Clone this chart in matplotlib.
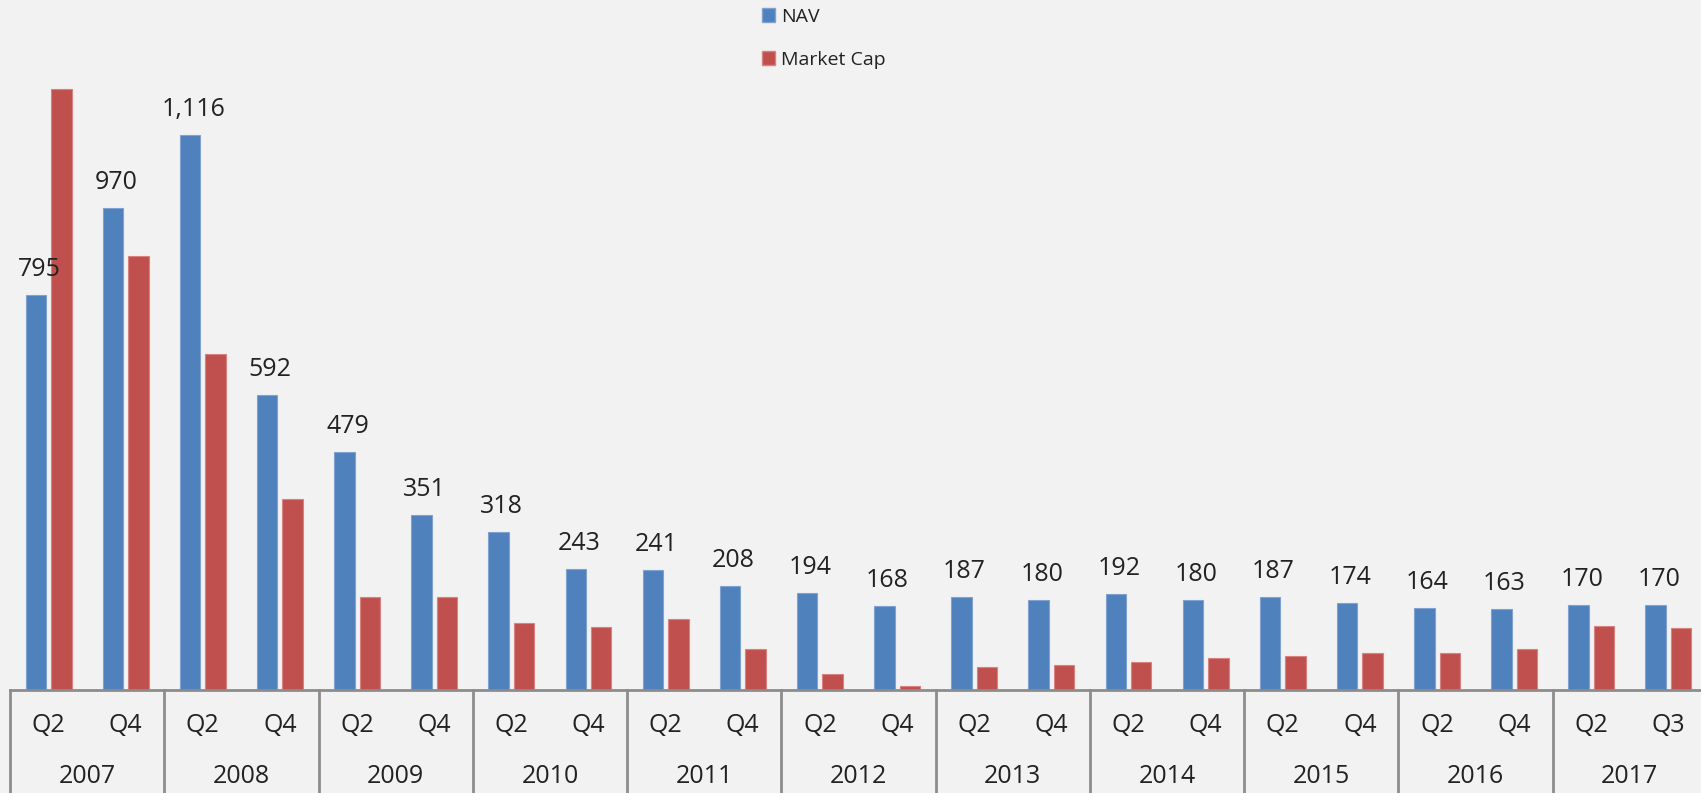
import matplotlib
matplotlib.use("Agg")
import matplotlib.pyplot as plt
import matplotlib.transforms as mtransforms
from matplotlib.patches import Patch
import numpy as np

# =========================
# DATA
# =========================
years = ["2007", "2008", "2009", "2010", "2011", "2012",
         "2013", "2014", "2015", "2016", "2017"]
quarters = ["Q2", "Q4"] * 10 + ["Q2", "Q3"]
nav = [795, 970, 1116, 592, 479, 351, 318, 243, 241, 208, 194,
       168, 187, 180, 192, 180, 187, 174, 164, 163, 170, 170]
market_cap = [1209, 872, 676, 384, 186, 186, 134, 126, 142, 81, 31,
              8, 45, 49, 55, 63, 67, 73, 73, 81, 127, 124]

# =========================
# STYLE
# =========================
plt.rcParams["font.family"] = ["Open Sans", "DejaVu Sans"]
BG = "#F2F2F2"
NAV_COLOR = "#4F81BD"
MC_COLOR = "#C0504D"
AXIS_COLOR = "#8C8C8C"
TEXT_COLOR = "#222222"

W, H = 1701, 793
fig = plt.figure(figsize=(W / 100, H / 100), dpi=100, facecolor=BG)

# axis geometry in pixels
left_px, base_px, plot_w_px = 10, 689.5, 1697
ax = fig.add_axes([left_px / W, (H - base_px) / H, plot_w_px / W, base_px / H])
ax.set_facecolor(BG)

x = np.arange(len(nav))
bw = 0.265
off = 0.165
ax.bar(x - off, nav, bw, color=NAV_COLOR, edgecolor="#7FA2D0", linewidth=0.8, zorder=2)
ax.bar(x + off, market_cap, bw, color=MC_COLOR, edgecolor="#D98280", linewidth=0.8, zorder=2)

ax.set_xlim(-0.5, len(nav) - 0.5)
ax.set_ylim(0, 1388)

for s in ["top", "right", "left"]:
    ax.spines[s].set_visible(False)
ax.spines["bottom"].set_color(AXIS_COLOR)
ax.spines["bottom"].set_linewidth(2)
ax.set_yticks([])
ax.set_xticks([])

# value labels on NAV bars
for xi, v in zip(x, nav):
    ax.annotate(f"{v:,}", (xi - 0.125, v), xytext=(0, 13.7), textcoords="offset points",
                ha="center", va="baseline", fontsize=18, color=TEXT_COLOR)

# category labels (two levels)
trans = mtransforms.blended_transform_factory(ax.transData, ax.transAxes)
q_y = -36.5 / base_px
yr_y = -87.0 / base_px
for xi, q in zip(x, quarters):
    ax.text(xi, q_y, q, transform=trans, ha="center", va="center",
            fontsize=18, color=TEXT_COLOR)

n_groups = len(years)
for g, yr in enumerate(years):
    ax.text(2 * g + 0.5, yr_y, yr, transform=trans, ha="center", va="center",
            fontsize=18, color=TEXT_COLOR)
for g in range(n_groups + 1):
    ax.plot([2 * g - 0.5, 2 * g - 0.5], [0, -(H - base_px) / base_px], transform=trans,
            color=AXIS_COLOR, linewidth=2, clip_on=False)

# legend
handles = [Patch(facecolor=NAV_COLOR, edgecolor="#7FA2D0", label="NAV"),
           Patch(facecolor=MC_COLOR, edgecolor="#D98280", label="Market Cap")]
fig.legend(handles=handles, loc="upper left", bbox_to_anchor=(744 / W, 1 + 10 / H),
           frameon=False, fontsize=14, handlelength=0.7, handleheight=0.7,
           handletextpad=0.3, labelspacing=1.3, labelcolor=TEXT_COLOR)

fig.savefig("out.png", dpi=100, facecolor=BG)
